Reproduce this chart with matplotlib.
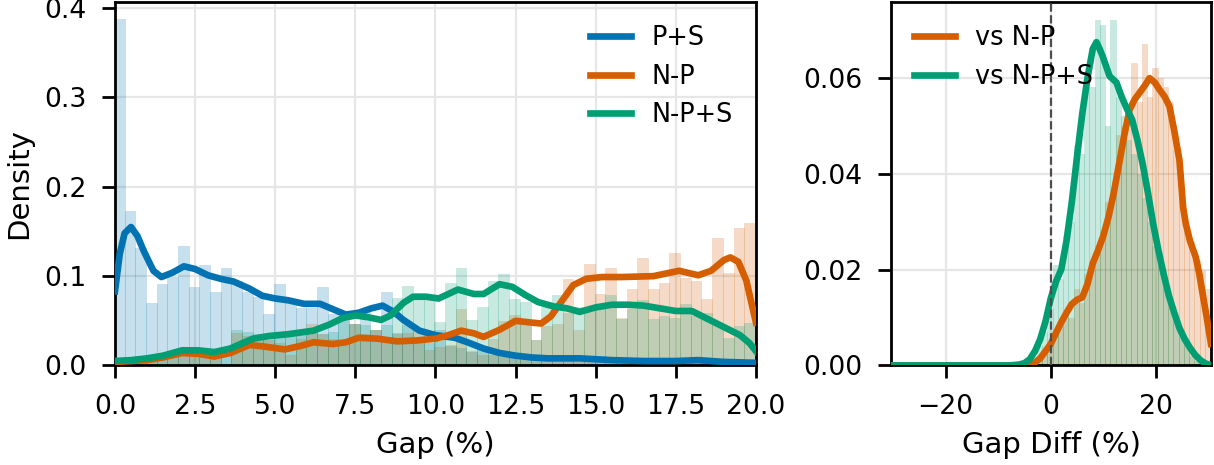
import matplotlib
matplotlib.use("Agg")
import matplotlib.pyplot as plt
import numpy as np

BLUE = "#0173b2"
ORANGE = "#d55e00"
GREEN = "#029e73"

# ---- left panel: gap histograms (60 bins of width 1/3) ----
gap_bin_start = -1 / 30
gap_bin_width = 1 / 3

ps_hist = [0.388, 0.173, 0.131, 0.070, 0.091, 0.099, 0.134, 0.088, 0.112, 0.082,
           0.109, 0.095, 0.082, 0.077, 0.058, 0.091, 0.072, 0.064, 0.064, 0.088,
           0.058, 0.052, 0.046, 0.062, 0.040, 0.082, 0.036, 0.045, 0.030, 0.025,
           0.040, 0.022, 0.020, 0.015, 0.018, 0.012, 0.010, 0.012, 0.008, 0.006,
           0.006, 0.005, 0.007, 0.004, 0.006, 0.005, 0.004, 0.006, 0.005, 0.003,
           0.004, 0.005, 0.003, 0.004, 0.003, 0.004, 0.003, 0.002, 0.003, 0.002]
np_hist = [0.003, 0.004, 0.005, 0.006, 0.008, 0.012, 0.017, 0.012, 0.009, 0.008,
           0.002, 0.036, 0.033, 0.030, 0.028, 0.025, 0.012, 0.030, 0.046, 0.035,
           0.030, 0.028, 0.046, 0.035, 0.040, 0.032, 0.035, 0.036, 0.040, 0.017,
           0.021, 0.023, 0.063, 0.016, 0.012, 0.030, 0.050, 0.057, 0.046, 0.029,
           0.044, 0.046, 0.097, 0.040, 0.114, 0.080, 0.109, 0.053, 0.086, 0.120,
           0.086, 0.092, 0.126, 0.098, 0.095, 0.074, 0.143, 0.103, 0.154, 0.160]
nps_hist = [0.004, 0.005, 0.006, 0.008, 0.012, 0.015, 0.020, 0.016, 0.012, 0.012,
            0.012, 0.040, 0.038, 0.035, 0.033, 0.035, 0.037, 0.037, 0.040, 0.035,
            0.038, 0.050, 0.046, 0.045, 0.040, 0.045, 0.075, 0.089, 0.078, 0.078,
            0.049, 0.092, 0.109, 0.051, 0.065, 0.095, 0.102, 0.074, 0.071, 0.029,
            0.066, 0.079, 0.059, 0.066, 0.066, 0.064, 0.079, 0.052, 0.063, 0.073,
            0.052, 0.055, 0.053, 0.069, 0.055, 0.059, 0.045, 0.031, 0.044, 0.047]

# kde curves
ps_kde_x = [0.0, 0.15, 0.3, 0.5, 0.7, 0.9, 1.2, 1.45, 1.8, 2.15, 2.5, 2.9, 3.3, 3.7,
            4.2, 4.6, 5.0, 5.4, 5.9, 6.4, 6.8, 7.2, 7.6, 8.0, 8.35, 8.7, 9.0, 9.5,
            10.0, 10.6, 11.0, 11.5, 12.0, 12.5, 13.0, 13.5, 14.5, 15.5, 16.5, 17.5,
            18.2, 19.0, 20.0]
ps_kde_y = [0.083, 0.125, 0.148, 0.155, 0.145, 0.128, 0.106, 0.099, 0.104, 0.111,
            0.108, 0.101, 0.097, 0.094, 0.086, 0.078, 0.075, 0.073, 0.069, 0.069,
            0.063, 0.057, 0.059, 0.064, 0.067, 0.060, 0.051, 0.039, 0.034, 0.031,
            0.026, 0.019, 0.014, 0.011, 0.009, 0.008, 0.008, 0.006, 0.005, 0.005,
            0.006, 0.004, 0.003]
np_kde_x = [0.0, 0.5, 1.0, 1.5, 2.1, 2.6, 3.1, 3.6, 4.2, 4.7, 5.3, 5.8, 6.2, 6.8,
            7.2, 7.6, 8.2, 8.8, 9.4, 10.0, 10.4, 10.8, 11.2, 11.5, 12.0, 12.5, 13.0,
            13.3, 13.6, 14.0, 14.3, 14.7, 15.2, 15.8, 16.8, 17.2, 17.6, 18.2, 18.6,
            19.0, 19.2, 19.45, 19.7, 20.0]
np_kde_y = [0.004, 0.005, 0.006, 0.009, 0.014, 0.013, 0.010, 0.014, 0.023, 0.021,
            0.018, 0.022, 0.026, 0.024, 0.026, 0.031, 0.030, 0.027, 0.028, 0.030,
            0.034, 0.039, 0.036, 0.032, 0.040, 0.050, 0.048, 0.047, 0.055, 0.075,
            0.090, 0.097, 0.099, 0.099, 0.100, 0.103, 0.106, 0.101, 0.106, 0.118,
            0.121, 0.116, 0.095, 0.048]
nps_kde_x = [0.0, 0.5, 1.0, 1.5, 2.1, 2.6, 3.1, 3.6, 4.3, 4.8, 5.4, 6.2, 6.7, 7.1,
             7.5, 7.9, 8.3, 8.6, 9.0, 9.3, 9.7, 10.1, 10.7, 11.2, 11.5, 12.0, 12.4,
             12.8, 13.2, 13.7, 14.1, 14.5, 15.0, 15.5, 16.0, 16.5, 17.0, 17.5, 18.0,
             18.5, 19.0, 19.5, 19.8, 20.0]
nps_kde_y = [0.005, 0.006, 0.008, 0.011, 0.017, 0.017, 0.015, 0.019, 0.030, 0.033,
             0.035, 0.039, 0.046, 0.053, 0.056, 0.054, 0.051, 0.056, 0.070, 0.077,
             0.077, 0.075, 0.085, 0.080, 0.080, 0.091, 0.088, 0.079, 0.071, 0.066,
             0.064, 0.060, 0.065, 0.068, 0.068, 0.067, 0.064, 0.061, 0.061, 0.052,
             0.043, 0.034, 0.025, 0.016]

# ---- right panel: gap difference histograms (bins of width 1) ----
diff_bin_width = 1.0
vs_nps_start = -6.65
vs_nps_hist = [0.0, 0.0005, 0.001, 0.002, 0.004, 0.007, 0.012, 0.021, 0.018, 0.027,
               0.030, 0.046, 0.044, 0.060, 0.058, 0.072, 0.071, 0.050, 0.072, 0.056,
               0.052, 0.047, 0.044, 0.040, 0.035, 0.030, 0.025, 0.021, 0.016, 0.012,
               0.009, 0.006, 0.004, 0.002, 0.001, 0.0005]
vs_np_start = -4.65
vs_np_hist = [0.0003, 0.001, 0.002, 0.003, 0.005, 0.007, 0.008, 0.011, 0.010, 0.016,
              0.013, 0.019, 0.020, 0.025, 0.028, 0.034, 0.036, 0.048, 0.050, 0.052,
              0.063, 0.055, 0.067, 0.056, 0.062, 0.060, 0.058, 0.055, 0.045, 0.036,
              0.028, 0.026, 0.022, 0.020, 0.016]

vs_np_kde_x = [-30.4, -20, -6, -4, -3, -2, -1, 0, 1, 2, 3, 4, 5, 6, 7, 8, 9, 10, 11,
               12, 13, 14, 15, 16, 17, 18, 18.8, 19.8, 20.7, 21.7, 22.6, 23.5, 24.5,
               25.2, 25.7, 26.5, 27.6, 28.3, 28.9, 29.7, 30.5]
vs_np_kde_y = [0.0, 0.0, 0.0, 0.0002, 0.0006, 0.0015, 0.003, 0.0045, 0.0068, 0.009,
               0.011, 0.0128, 0.0137, 0.0142, 0.017, 0.0213, 0.024, 0.027, 0.031,
               0.036, 0.042, 0.048, 0.0533, 0.0555, 0.057, 0.0585, 0.0599, 0.059,
               0.0575, 0.056, 0.054, 0.049, 0.0428, 0.033, 0.0296, 0.026, 0.0226,
               0.019, 0.015, 0.010, 0.0045]
vs_nps_kde_x = [-30.4, -20, -8, -6, -5, -4, -3, -2, -1, 0, 1, 2, 3, 4, 5, 6, 7, 8,
                8.7, 9.3, 9.9, 11.2, 12.5, 13.5, 14.5, 15.5, 16.5, 17.5, 18.5, 19.5,
                20.5, 21.5, 22.5, 23.5, 24.5, 25.5, 26.5, 27.5, 28.5, 29.5, 30.5]
vs_nps_kde_y = [0.0, 0.0, 0.0, 0.0002, 0.0005, 0.0013, 0.003, 0.0055, 0.0092, 0.014,
                0.0175, 0.020, 0.026, 0.034, 0.0435, 0.0525, 0.060, 0.066, 0.0674,
                0.066, 0.0644, 0.0603, 0.059, 0.056, 0.0535, 0.0512, 0.047, 0.042,
                0.036, 0.0295, 0.024, 0.019, 0.0145, 0.011, 0.0078, 0.0055, 0.0037,
                0.0022, 0.0011, 0.0004, 0.0001]


def draw_hist(ax, start, width, heights, color):
    left = start + width * np.arange(len(heights))
    ax.bar(left, heights, width=width, align="edge", color=color, alpha=0.22,
           edgecolor=color, linewidth=0.2, zorder=2)


plt.rcParams.update({
    "font.family": "DejaVu Sans",
    "font.size": 10.5,
    "axes.labelsize": 10.5,
    "xtick.labelsize": 9.6,
    "ytick.labelsize": 9.6,
    "legend.fontsize": 9.2,
    "axes.linewidth": 1.0,
    "xtick.major.width": 1.0,
    "ytick.major.width": 1.0,
    "xtick.major.size": 4.8,
    "ytick.major.size": 4.8,
    "xtick.major.pad": 5.5,
    "ytick.major.pad": 5.5,
})

fig = plt.figure(figsize=(6.07, 2.325), dpi=200)
ax1 = fig.add_axes([0.0947, 0.214, 0.528, 0.782])
ax2 = fig.add_axes([0.734, 0.214, 0.2635, 0.782])

for ax in (ax1, ax2):
    ax.grid(True, color="#e6e6e6", linewidth=0.8, zorder=0)
    ax.set_axisbelow(True)

draw_hist(ax1, gap_bin_start, gap_bin_width, ps_hist, BLUE)
draw_hist(ax1, gap_bin_start, gap_bin_width, np_hist, ORANGE)
draw_hist(ax1, gap_bin_start, gap_bin_width, nps_hist, GREEN)
ax1.plot(ps_kde_x, ps_kde_y, color=BLUE, lw=2.4, label="P+S", zorder=3)
ax1.plot(np_kde_x, np_kde_y, color=ORANGE, lw=2.4, label="N-P", zorder=3)
ax1.plot(nps_kde_x, nps_kde_y, color=GREEN, lw=2.4, label="N-P+S", zorder=3)
ax1.set_xlim(0, 20)
ax1.set_ylim(0, 0.407)
ax1.set_xticks(np.arange(0, 20.1, 2.5))
ax1.set_yticks([0.0, 0.1, 0.2, 0.3, 0.4])
ax1.set_xlabel("Gap (%)")
ax1.set_ylabel("Density")
ax1.legend(loc="upper right", frameon=False, handlelength=1.6)

draw_hist(ax2, vs_np_start, diff_bin_width, vs_np_hist, ORANGE)
draw_hist(ax2, vs_nps_start, diff_bin_width, vs_nps_hist, GREEN)
ax2.plot(vs_np_kde_x, vs_np_kde_y, color=ORANGE, lw=2.4, label="vs N-P", zorder=3)
ax2.plot(vs_nps_kde_x, vs_nps_kde_y, color=GREEN, lw=2.4, label="vs N-P+S", zorder=3)
ax2.axvline(0, color="#4d4d4d", linestyle="--", lw=0.8, zorder=4)
ax2.set_xlim(-30.4, 30.5)
ax2.set_ylim(0, 0.0758)
ax2.set_xticks([-20, 0, 20])
ax2.set_yticks([0.0, 0.02, 0.04, 0.06])
ax2.set_xlabel("Gap Diff (%)")
ax2.legend(loc="upper left", frameon=False, handlelength=1.6)

fig.savefig("out.png", dpi=200)
